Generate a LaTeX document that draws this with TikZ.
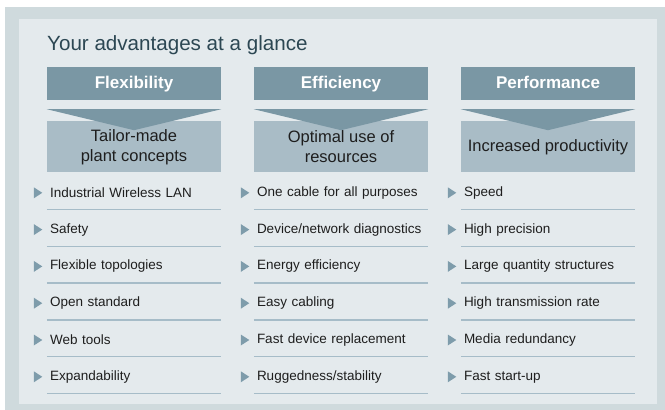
\documentclass[tikz,border=0pt]{standalone}
\usepackage{fontspec}
\setmainfont{Liberation Sans}
\usetikzlibrary{positioning}
\definecolor{outerbg}{HTML}{CFDADD}
\definecolor{innerbg}{HTML}{E4EAED}
\definecolor{hdrfill}{HTML}{7A97A4}
\definecolor{subfill}{HTML}{A9BCC6}
\definecolor{rulecol}{HTML}{A6BCC8}
\definecolor{bulletcol}{HTML}{7E9CAB}
\definecolor{titlecol}{HTML}{2C4753}
\definecolor{itemcol}{HTML}{1E1E1E}
\begin{document}
\begin{tikzpicture}[x=1pt,y=-1pt,
  head/.style={fill=hdrfill,text=white,minimum width=174pt,minimum height=33pt,inner sep=0pt,
    text height=12.5pt,text depth=3.5pt,font=\fontsize{17}{20}\selectfont\bfseries},
  sub/.style={fill=subfill,text=itemcol,minimum width=174pt,minimum height=51pt,inner sep=3pt,
    align=center,font=\fontsize{16.5}{20}\selectfont},
  entry/.style={minimum width=174pt,minimum height=33pt,inner xsep=3pt,inner ysep=0pt,
    text width=168pt,align=left,text=itemcol,font=\fontsize{13.5}{16}\selectfont},
  node distance=3.4pt]
\useasboundingbox (0,0) rectangle (665,410);
\fill[outerbg] (5,7) rectangle (665,410);
\fill[innerbg] (19,19) rectangle (657,404);
\node[anchor=base west,text=titlecol,inner sep=0pt,font=\fontsize{20.6}{24}\selectfont] (title) at (47,50) {Your advantages at a glance};

\node[head] (hflex) at (134,83.5) {Flexibility};
\node[head] (heff) at (341,83.5) {Efficiency};
\node[head] (hperf) at (548,83.5) {Performance};

\node[sub,below=21pt of hflex] (sflex) {Tailor-made\\plant concepts};
\node[sub,below=21pt of heff] (seff) {Optimal use of\\resources};
\node[sub,below=21pt of hperf] (sperf) {Increased productivity};

\foreach \h/\s in {hflex/sflex,heff/seff,hperf/sperf}
  \fill[hdrfill] ([yshift=-9pt]\h.south west) -- ([yshift=-9pt]\h.south east) -- ([yshift=-9pt]\s.north) -- cycle;

\node[entry,below=3.5pt of sflex] (flex1) {Industrial Wireless LAN};
\node[entry,below=of flex1] (flex2) {Safety};
\node[entry,below=of flex2] (flex3) {Flexible topologies};
\node[entry,below=of flex3] (flex4) {Open standard};
\node[entry,below=of flex4] (flex5) {Web tools};
\node[entry,below=of flex5] (flex6) {Expandability};

\node[entry,below=3.5pt of seff] (eff1) {One cable for all purposes};
\node[entry,below=of eff1] (eff2) {Device/network diagnostics};
\node[entry,below=of eff2] (eff3) {Energy efficiency};
\node[entry,below=of eff3] (eff4) {Easy cabling};
\node[entry,below=of eff4] (eff5) {Fast device replacement};
\node[entry,below=of eff5] (eff6) {Ruggedness/stability};

\node[entry,below=3.5pt of sperf] (perf1) {Speed};
\node[entry,below=of perf1] (perf2) {High precision};
\node[entry,below=of perf2] (perf3) {Large quantity structures};
\node[entry,below=of perf3] (perf4) {High transmission rate};
\node[entry,below=of perf4] (perf5) {Media redundancy};
\node[entry,below=of perf5] (perf6) {Fast start-up};

\foreach \n in {flex1,flex2,flex3,flex4,flex5,flex6,eff1,eff2,eff3,eff4,eff5,eff6,perf1,perf2,perf3,perf4,perf5,perf6}{
  \fill[bulletcol] ([shift={(-13,-5.5)}]\n.west) -- ([shift={(-4.5,0)}]\n.west) -- ([shift={(-13,5.5)}]\n.west) -- cycle;
  \draw[rulecol,line width=1.5pt] (\n.south west) -- (\n.south east);
}
\end{tikzpicture}
\end{document}
